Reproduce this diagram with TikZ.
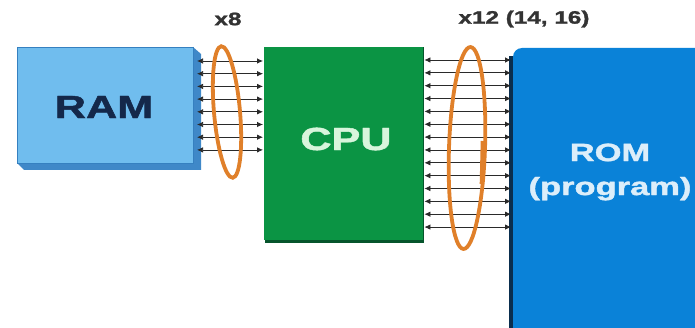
\documentclass[tikz,border=0pt]{standalone}
\usepackage{fontspec}
\setmainfont{Liberation Sans}
\newfontfamily\heavyfont[FakeBold=1.3]{Liberation Sans Bold}
\usetikzlibrary{arrows.meta,shapes.geometric}
\definecolor{ramfill}{HTML}{70BDEE}
\definecolor{ramedge}{HTML}{3580C0}
\definecolor{ramdepth}{HTML}{3F88C8}
\definecolor{ramtext}{HTML}{14284A}
\definecolor{cpufill}{HTML}{0B9444}
\definecolor{cpuedge}{HTML}{06552C}
\definecolor{cputext}{HTML}{D8F5DC}
\definecolor{romfill}{HTML}{0A82D8}
\definecolor{romedge}{HTML}{0A2E4E}
\definecolor{romtext}{HTML}{DCEEFA}
\definecolor{ringcol}{HTML}{E0802A}
\definecolor{buscol}{HTML}{2A2A2A}
\definecolor{labcol}{HTML}{333333}
\begin{document}
\begin{tikzpicture}[x=1pt,y=-1pt,
  bigtxt/.style={font=\fontsize{32}{32}\selectfont\heavyfont},
  romtxt/.style={font=\fontsize{25}{34}\selectfont\heavyfont, align=center},
  labtxt/.style={font=\fontsize{18}{18}\selectfont\heavyfont, text=labcol},
  busline/.style={draw=buscol, line width=0.75pt, {Latex[length=6pt,width=5.5pt]}-{Latex[length=6pt,width=5.5pt]}},
  ring/.style={draw=ringcol, line width=3.8pt, ellipse, inner sep=0pt}]
\useasboundingbox (0,0) rectangle (695,328);
\clip (0,0) rectangle (695,328);
\fill[white] (0,0) rectangle (695,328);
% RAM depth
\fill[ramdepth] (193,47) -- (201,54) -- (201,170) -- (24,170) -- (17,163) -- (193,163) -- cycle;
\node[draw=ramedge, fill=ramfill, line width=1pt, minimum width=176pt, minimum height=116pt, inner sep=0pt, anchor=north west] (ram) at (17,47) {};
\node[bigtxt, text=ramtext] (ramlab) at (104,107) {\scalebox{1.35}[1]{RAM}};
% CPU
\fill[cpuedge] (265,47) rectangle (424,243);
\node[fill=cpufill, minimum width=159pt, minimum height=193pt, inner sep=0pt, anchor=north west] (cpu) at (264,47) {};
\node[bigtxt, text=cputext] (cpulab) at (346,139) {\scalebox{1.35}[1]{CPU}};
% ROM
\fill[romedge] (509,56) rectangle (514,340);
\fill[romfill, rounded corners=9pt] (513,48) rectangle (720,360);
\coordinate (rom) at (513,48);
\node[romtxt, text=romtext] (romlab) at (610,172) {\scalebox{1.38}[1]{ROM}\\\scalebox{1.38}[1]{(program)}};
% RAM bus
\foreach \i in {0,...,7} {
  \draw[busline] ([xshift=3pt]ram.east |- 0,{61+12.7*\i}) -- ([xshift=-1pt]cpu.west |- 0,{61+12.7*\i});
}
% ROM bus
\foreach \i in {0,...,13} {
  \draw[busline] ([xshift=1pt]cpu.east |- 0,{60+12.85*\i}) -- ([xshift=-2pt]rom |- 0,{60+12.85*\i});
}
% rings
\node[ring, minimum width=36pt, minimum height=202pt, rotate=-2] (ring2) at (467,148) {};
\draw[ringcol, line width=3.8pt] (482.6,141) -- (481.6,184);
\node[ring, minimum width=26pt, minimum height=132pt, rotate=5] (ring1) at (227,112) {};
% labels
\node[labtxt] (lab1) at (228,19) {\scalebox{1.35}[1]{x8}};
\node[labtxt] (lab2) at (524,19) {\scalebox{1.35}[1]{x12 (14, 16)}};
\end{tikzpicture}
\end{document}
